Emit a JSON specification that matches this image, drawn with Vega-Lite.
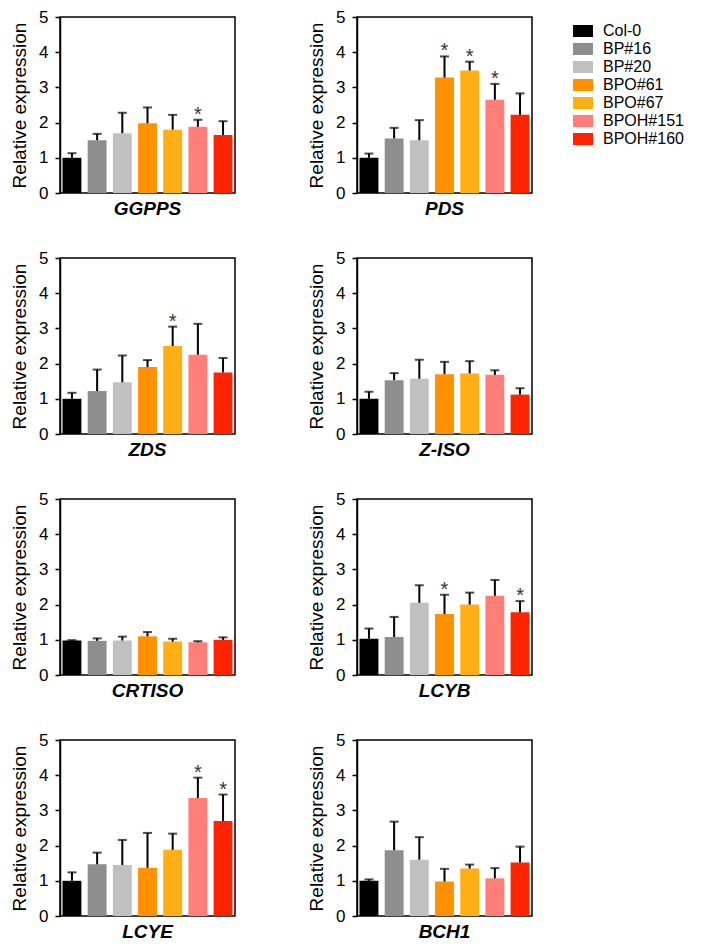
{
  "$schema": "https://vega.github.io/schema/vega-lite/v6.json",
  "padding": {"left": 9, "top": 7, "right": 5, "bottom": 5},
  "config": {
    "font": "Liberation Sans",
    "view": {"stroke": "black", "strokeWidth": 1.5},
    "axisY": {
      "titleFontSize": 19,
      "titleFontWeight": "normal",
      "titleColor": "black",
      "titlePadding": 9,
      "labelFontSize": 17,
      "labelColor": "black",
      "labelPadding": 7,
      "labelOverlap": false,
      "tickSize": 5,
      "tickWidth": 1.5,
      "tickColor": "black",
      "domainColor": "black",
      "domainWidth": 1.5,
      "grid": false
    }
  },
  "data": {
    "values": [
      {"gene": "GGPPS", "line": "Col-0", "mean": 1.0, "upper": 1.13, "sig": false},
      {"gene": "GGPPS", "line": "BP#16", "mean": 1.5, "upper": 1.68, "sig": false},
      {"gene": "GGPPS", "line": "BP#20", "mean": 1.7, "upper": 2.28, "sig": false},
      {"gene": "GGPPS", "line": "BPO#61", "mean": 1.98, "upper": 2.43, "sig": false},
      {"gene": "GGPPS", "line": "BPO#67", "mean": 1.8, "upper": 2.22, "sig": false},
      {"gene": "GGPPS", "line": "BPOH#151", "mean": 1.88, "upper": 2.08, "sig": true},
      {"gene": "GGPPS", "line": "BPOH#160", "mean": 1.65, "upper": 2.04, "sig": false},
      {"gene": "PDS", "line": "Col-0", "mean": 1.0, "upper": 1.12, "sig": false},
      {"gene": "PDS", "line": "BP#16", "mean": 1.55, "upper": 1.85, "sig": false},
      {"gene": "PDS", "line": "BP#20", "mean": 1.5, "upper": 2.07, "sig": false},
      {"gene": "PDS", "line": "BPO#61", "mean": 3.28, "upper": 3.88, "sig": true},
      {"gene": "PDS", "line": "BPO#67", "mean": 3.48, "upper": 3.73, "sig": true},
      {"gene": "PDS", "line": "BPOH#151", "mean": 2.65, "upper": 3.1, "sig": true},
      {"gene": "PDS", "line": "BPOH#160", "mean": 2.22, "upper": 2.83, "sig": false},
      {"gene": "ZDS", "line": "Col-0", "mean": 1.0, "upper": 1.17, "sig": false},
      {"gene": "ZDS", "line": "BP#16", "mean": 1.22, "upper": 1.83, "sig": false},
      {"gene": "ZDS", "line": "BP#20", "mean": 1.47, "upper": 2.23, "sig": false},
      {"gene": "ZDS", "line": "BPO#61", "mean": 1.9, "upper": 2.1, "sig": false},
      {"gene": "ZDS", "line": "BPO#67", "mean": 2.5, "upper": 3.05, "sig": true},
      {"gene": "ZDS", "line": "BPOH#151", "mean": 2.25, "upper": 3.13, "sig": false},
      {"gene": "ZDS", "line": "BPOH#160", "mean": 1.75, "upper": 2.16, "sig": false},
      {"gene": "Z-ISO", "line": "Col-0", "mean": 1.0, "upper": 1.2, "sig": false},
      {"gene": "Z-ISO", "line": "BP#16", "mean": 1.53, "upper": 1.73, "sig": false},
      {"gene": "Z-ISO", "line": "BP#20", "mean": 1.57, "upper": 2.11, "sig": false},
      {"gene": "Z-ISO", "line": "BPO#61", "mean": 1.7, "upper": 2.05, "sig": false},
      {"gene": "Z-ISO", "line": "BPO#67", "mean": 1.72, "upper": 2.07, "sig": false},
      {"gene": "Z-ISO", "line": "BPOH#151", "mean": 1.68, "upper": 1.81, "sig": false},
      {"gene": "Z-ISO", "line": "BPOH#160", "mean": 1.12, "upper": 1.3, "sig": false},
      {"gene": "CRTISO", "line": "Col-0", "mean": 0.98, "upper": 0.99, "sig": false},
      {"gene": "CRTISO", "line": "BP#16", "mean": 0.97, "upper": 1.04, "sig": false},
      {"gene": "CRTISO", "line": "BP#20", "mean": 0.98, "upper": 1.09, "sig": false},
      {"gene": "CRTISO", "line": "BPO#61", "mean": 1.1, "upper": 1.22, "sig": false},
      {"gene": "CRTISO", "line": "BPO#67", "mean": 0.95, "upper": 1.03, "sig": false},
      {"gene": "CRTISO", "line": "BPOH#151", "mean": 0.93, "upper": 0.96, "sig": false},
      {"gene": "CRTISO", "line": "BPOH#160", "mean": 1.0, "upper": 1.07, "sig": false},
      {"gene": "LCYB", "line": "Col-0", "mean": 1.03, "upper": 1.32, "sig": false},
      {"gene": "LCYB", "line": "BP#16", "mean": 1.08, "upper": 1.65, "sig": false},
      {"gene": "LCYB", "line": "BP#20", "mean": 2.05, "upper": 2.55, "sig": false},
      {"gene": "LCYB", "line": "BPO#61", "mean": 1.73, "upper": 2.28, "sig": true},
      {"gene": "LCYB", "line": "BPO#67", "mean": 2.0, "upper": 2.34, "sig": false},
      {"gene": "LCYB", "line": "BPOH#151", "mean": 2.25, "upper": 2.7, "sig": false},
      {"gene": "LCYB", "line": "BPOH#160", "mean": 1.78, "upper": 2.1, "sig": true},
      {"gene": "LCYE", "line": "Col-0", "mean": 1.0, "upper": 1.24, "sig": false},
      {"gene": "LCYE", "line": "BP#16", "mean": 1.47, "upper": 1.8, "sig": false},
      {"gene": "LCYE", "line": "BP#20", "mean": 1.45, "upper": 2.16, "sig": false},
      {"gene": "LCYE", "line": "BPO#61", "mean": 1.37, "upper": 2.36, "sig": false},
      {"gene": "LCYE", "line": "BPO#67", "mean": 1.88, "upper": 2.34, "sig": false},
      {"gene": "LCYE", "line": "BPOH#151", "mean": 3.35, "upper": 3.93, "sig": true},
      {"gene": "LCYE", "line": "BPOH#160", "mean": 2.7, "upper": 3.45, "sig": true},
      {"gene": "BCH1", "line": "Col-0", "mean": 1.0, "upper": 1.04, "sig": false},
      {"gene": "BCH1", "line": "BP#16", "mean": 1.87, "upper": 2.68, "sig": false},
      {"gene": "BCH1", "line": "BP#20", "mean": 1.6, "upper": 2.24, "sig": false},
      {"gene": "BCH1", "line": "BPO#61", "mean": 0.98, "upper": 1.34, "sig": false},
      {"gene": "BCH1", "line": "BPO#67", "mean": 1.35, "upper": 1.46, "sig": false},
      {"gene": "BCH1", "line": "BPOH#151", "mean": 1.07, "upper": 1.36, "sig": false},
      {"gene": "BCH1", "line": "BPOH#160", "mean": 1.52, "upper": 1.97, "sig": false}
    ]
  },
  "facet": {
    "field": "gene",
    "type": "nominal",
    "sort": ["GGPPS", "PDS", "ZDS", "Z-ISO", "CRTISO", "LCYB", "LCYE", "BCH1"],
    "header": {
      "title": null,
      "labelOrient": "bottom",
      "labelFont": "Liberation Sans",
      "labelFontSize": 19,
      "labelFontWeight": "bold",
      "labelFontStyle": "italic",
      "labelColor": "black",
      "labelPadding": -1
    }
  },
  "columns": 2,
  "spacing": {"column": 70, "row": 28},
  "resolve": {"axis": {"y": "independent"}},
  "spec": {
    "width": 175,
    "height": 176,
    "encoding": {
      "x": {
        "field": "line",
        "type": "nominal",
        "sort": ["Col-0", "BP#16", "BP#20", "BPO#61", "BPO#67", "BPOH#151", "BPOH#160"],
        "scale": {"paddingInner": 0.25, "paddingOuter": 0.1},
        "axis": null
      }
    },
    "layer": [
      {
        "mark": {"type": "bar"},
        "encoding": {
          "y": {
            "field": "mean",
            "type": "quantitative",
            "scale": {"domain": [0, 5], "nice": false},
            "axis": {"title": "Relative expression", "values": [0, 1, 2, 3, 4, 5]}
          },
          "color": {
            "field": "line",
            "type": "nominal",
            "sort": ["Col-0", "BP#16", "BP#20", "BPO#61", "BPO#67", "BPOH#151", "BPOH#160"],
            "scale": {
              "domain": ["Col-0", "BP#16", "BP#20", "BPO#61", "BPO#67", "BPOH#151", "BPOH#160"],
              "range": ["#000000", "#8e8e8e", "#c0c0c0", "#ff9000", "#ffae14", "#ff7f78", "#ff2400"]
            },
            "legend": {
              "title": null,
              "orient": "right",
              "offset": 36,
              "symbolType": "M-1,-0.6H1V0.6H-1Z",
              "symbolSize": 400,
              "symbolStrokeWidth": 0,
              "labelFontSize": 16,
              "labelColor": "black",
              "labelOffset": 10,
              "rowPadding": 0,
              "padding": 4
            }
          }
        }
      },
      {
        "mark": {"type": "rule", "strokeWidth": 2, "color": "black"},
        "encoding": {
          "y": {"field": "mean", "type": "quantitative", "axis": {"title": "Relative expression", "values": [0, 1, 2, 3, 4, 5]}},
          "y2": {"field": "upper"}
        }
      },
      {
        "mark": {"type": "tick", "size": 9, "thickness": 2, "color": "black"},
        "encoding": {
          "y": {"field": "upper", "type": "quantitative", "axis": {"title": "Relative expression", "values": [0, 1, 2, 3, 4, 5]}}
        }
      },
      {
        "transform": [{"filter": "datum.sig"}],
        "mark": {"type": "text", "text": "*", "fontSize": 20, "dy": 1, "baseline": "alphabetic", "color": "#333333"},
        "encoding": {
          "y": {"field": "upper", "type": "quantitative", "axis": {"title": "Relative expression", "values": [0, 1, 2, 3, 4, 5]}}
        }
      }
    ]
  }
}
